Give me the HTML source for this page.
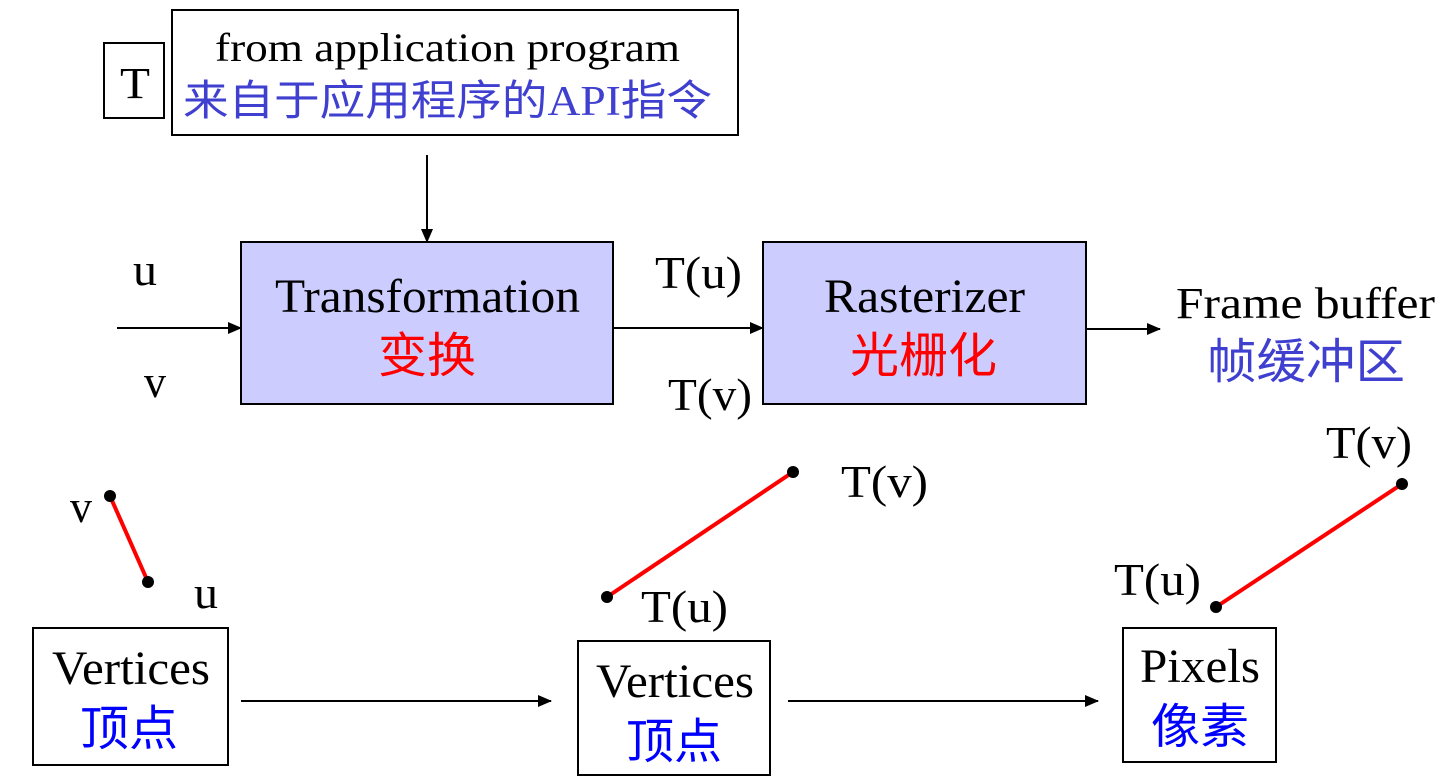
<!DOCTYPE html>
<html><head><meta charset="utf-8"><style>
html,body{margin:0;padding:0;background:#fff;}
svg{display:block}
text{font-family:"Liberation Serif","Noto Serif CJK SC",serif;}
.c{font-family:"Liberation Sans","Noto Sans CJK SC",sans-serif;}
</style></head><body>
<svg width="1448" height="780" viewBox="0 0 1448 780" xmlns="http://www.w3.org/2000/svg">
<defs><marker id="a" markerWidth="14" markerHeight="12" refX="13" refY="6" orient="auto" markerUnits="userSpaceOnUse"><path d="M0,0 L14,6 L0,12 z" fill="#000"/></marker></defs>
<g stroke="#000" stroke-width="2" fill="none">
<rect x="104" y="43" width="60" height="75"/>
<rect x="172" y="10" width="566" height="125"/>
<rect x="241" y="242" width="372" height="162" fill="#ccccff"/>
<rect x="763" y="242" width="323" height="162" fill="#ccccff"/>
<rect x="33" y="628" width="195" height="137"/>
<rect x="578" y="641" width="192" height="134"/>
<rect x="1123" y="628" width="153" height="134"/>
<line x1="427" y1="155" x2="427" y2="242" marker-end="url(#a)"/>
<line x1="117" y1="328" x2="241" y2="328" marker-end="url(#a)"/>
<line x1="613" y1="328" x2="763" y2="328" marker-end="url(#a)"/>
<line x1="1086" y1="329" x2="1160" y2="329" marker-end="url(#a)"/>
<line x1="241" y1="701" x2="551" y2="701" marker-end="url(#a)"/>
<line x1="788" y1="701" x2="1098" y2="701" marker-end="url(#a)"/>
</g>
<g stroke="#ff0000" stroke-width="4">
<line x1="110" y1="496" x2="148" y2="582"/>
<line x1="607" y1="597" x2="793" y2="472"/>
<line x1="1216" y1="607" x2="1402" y2="484"/>
</g>
<g fill="#000">
<circle cx="110" cy="496" r="6"/><circle cx="148" cy="582" r="6"/>
<circle cx="607" cy="597" r="6"/><circle cx="793" cy="472" r="6"/>
<circle cx="1216" cy="607" r="6"/><circle cx="1402" cy="484" r="6"/>
</g>
<g font-size="46" fill="#000" lengthAdjust="spacingAndGlyphs">
<text x="120" y="98" font-size="44" textLength="30" lengthAdjust="spacingAndGlyphs">T</text>
<text x="215" y="61" font-size="40" textLength="465" lengthAdjust="spacingAndGlyphs">from application program</text>
<text x="133" y="285" textLength="24" lengthAdjust="spacingAndGlyphs">u</text>
<text x="144" y="397" textLength="22" lengthAdjust="spacingAndGlyphs">v</text>
<text x="655" y="288" textLength="87" lengthAdjust="spacingAndGlyphs">T(u)</text>
<text x="668" y="410" textLength="84" lengthAdjust="spacingAndGlyphs">T(v)</text>
<text x="1176" y="318" font-size="44" textLength="259" lengthAdjust="spacingAndGlyphs">Frame buffer</text>
<text x="70" y="522" textLength="22" lengthAdjust="spacingAndGlyphs">v</text>
<text x="194" y="608" textLength="24" lengthAdjust="spacingAndGlyphs">u</text>
<text x="841" y="497" textLength="87" lengthAdjust="spacingAndGlyphs">T(v)</text>
<text x="641" y="622" textLength="87" lengthAdjust="spacingAndGlyphs">T(u)</text>
<text x="1326" y="458" textLength="86" lengthAdjust="spacingAndGlyphs">T(v)</text>
<text x="1114" y="595" textLength="87" lengthAdjust="spacingAndGlyphs">T(u)</text>
</g>
<g font-size="48" fill="#000">
<text x="275" y="312" textLength="305" lengthAdjust="spacingAndGlyphs">Transformation</text>
<text x="824" y="312" textLength="201" lengthAdjust="spacingAndGlyphs">Rasterizer</text>
<text x="52" y="684" textLength="158" lengthAdjust="spacingAndGlyphs">Vertices</text>
<text x="596" y="697" textLength="158" lengthAdjust="spacingAndGlyphs">Vertices</text>
<text x="1140" y="682" textLength="120" lengthAdjust="spacingAndGlyphs">Pixels</text>
</g>
<text class="c" x="183" y="115" font-size="42" fill="#3f3fd0" textLength="529" lengthAdjust="spacingAndGlyphs">来自于应用程序的<tspan font-family="Liberation Serif">API</tspan>指令</text>
<text class="c" x="1207" y="378" font-size="48" fill="#3f3fd0" textLength="198" lengthAdjust="spacingAndGlyphs">帧缓冲区</text>
<g font-size="48">
<text class="c" x="378" y="372" fill="#ff0000" textLength="98" lengthAdjust="spacingAndGlyphs">变换</text>
<text class="c" x="850" y="372" fill="#ff0000" textLength="147" lengthAdjust="spacingAndGlyphs">光栅化</text>
<text class="c" x="80" y="745" fill="#0000ff" textLength="98" lengthAdjust="spacingAndGlyphs">顶点</text>
<text class="c" x="626" y="758" fill="#0000ff" textLength="96" lengthAdjust="spacingAndGlyphs">顶点</text>
<text class="c" x="1151" y="743" fill="#0000ff" textLength="98" lengthAdjust="spacingAndGlyphs">像素</text>
</g>
</svg>
</body></html>
